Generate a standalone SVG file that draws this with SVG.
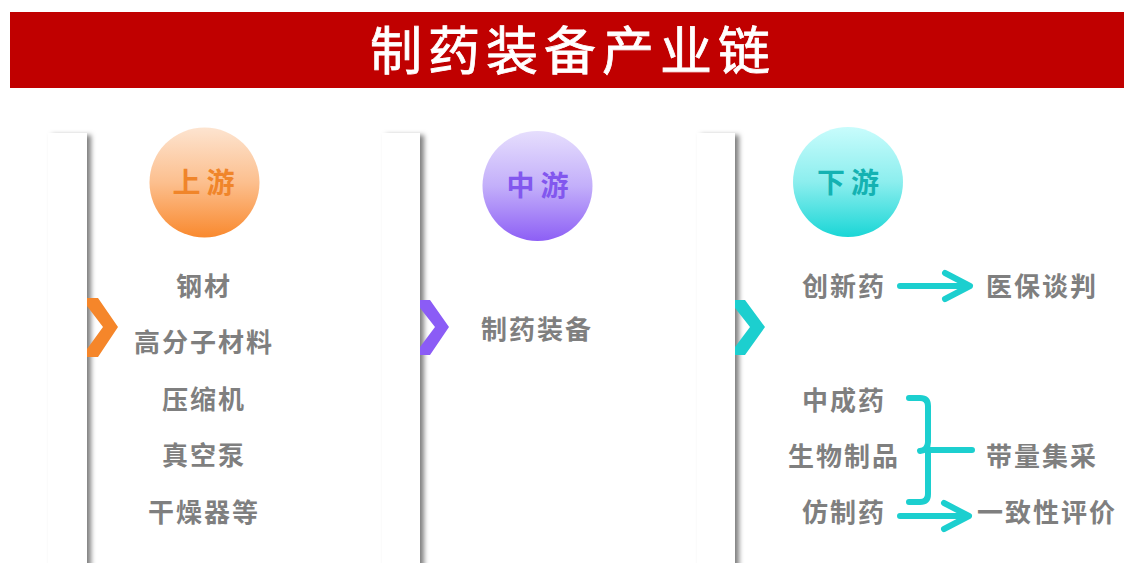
<svg xmlns="http://www.w3.org/2000/svg" width="1124" height="563" viewBox="0 0 1124 563">
<defs>
<style>
.t{font-family:"Noto Sans CJK SC","Noto Sans",sans-serif;font-weight:700;}
.item{font-size:26px;fill:#7f7f7f;letter-spacing:2px;text-anchor:middle;}
.circ{font-size:28px;letter-spacing:6px;text-anchor:middle;}
.panel{fill:#ffffff;filter:url(#sh);}
.conn{fill:none;stroke:#1ccfcf;stroke-width:6;stroke-linecap:round;stroke-linejoin:round;}
</style>
<filter id="sh" x="-50%" y="-10%" width="200%" height="120%">
<feDropShadow dx="4" dy="2" stdDeviation="2.5" flood-color="#000" flood-opacity="0.5"/>
</filter>
<linearGradient id="gO" x1="0" y1="0" x2="0" y2="1"><stop offset="0" stop-color="#fde4d0"/><stop offset="0.5" stop-color="#fcbf8e"/><stop offset="1" stop-color="#f9892e"/></linearGradient>
<linearGradient id="gP" x1="0" y1="0" x2="0" y2="1"><stop offset="0" stop-color="#e6defd"/><stop offset="0.5" stop-color="#c3affa"/><stop offset="1" stop-color="#8d5ff5"/></linearGradient>
<linearGradient id="gT" x1="0" y1="0" x2="0" y2="1"><stop offset="0" stop-color="#c8fcfc"/><stop offset="0.5" stop-color="#8ceeee"/><stop offset="1" stop-color="#1ad6d6"/></linearGradient>
</defs>
<rect width="1124" height="563" fill="#ffffff"/>
<g id="title">
<rect x="10" y="12" width="1114" height="76" fill="#c00000"/>
<text x="573" y="70" font-family="'Noto Sans CJK SC','Noto Sans',sans-serif" font-size="52" font-weight="400" fill="#ffffff" text-anchor="middle" letter-spacing="6" stroke="#ffffff" stroke-width="0.8">制药装备产业链</text>
</g>
<g id="upstream">
<rect class="panel" x="48" y="133" width="39" height="440"/>
<polygon points="87,298 98,298 118,327 98,357 87,357 87,349 103,327 87,306" fill="#f5862a"/>
<circle cx="204.5" cy="182.5" r="55" fill="url(#gO)"/>
<text class="t circ" x="206.5" y="193" fill="#f0852a">上游</text>
<text class="t item" x="204" y="296">钢材</text>
<text class="t item" x="204" y="352">高分子材料</text>
<text class="t item" x="204" y="409">压缩机</text>
<text class="t item" x="204" y="465">真空泵</text>
<text class="t item" x="204" y="522">干燥器等</text>
</g>
<g id="midstream">
<rect class="panel" x="382" y="133" width="38" height="440"/>
<polygon points="420,300 430,300 449,327 430,355 420,355 420,347 435,327 420,308" fill="#8b5cf6"/>
<circle cx="537.5" cy="186" r="55" fill="url(#gP)"/>
<text class="t circ" x="540.5" y="196" fill="#8257ee">中游</text>
<text class="t item" x="537" y="339">制药装备</text>
</g>
<g id="downstream">
<rect class="panel" x="697" y="133" width="38" height="440"/>
<polygon points="735,300 745,300 765,327 745,355 735,355 735,347 750,327 735,308" fill="#1ccfcf"/>
<circle cx="848" cy="182" r="55" fill="url(#gT)"/>
<text class="t circ" x="851" y="193" fill="#14b2b2">下游</text>
</g>
<g id="n-innov"><text class="t item" x="844" y="296">创新药</text></g>
<g id="n-yibao"><text class="t item" x="1042" y="296">医保谈判</text></g>
<g id="n-zcy"><text class="t item" x="844" y="410">中成药</text></g>
<g id="n-swzp"><text class="t item" x="844" y="466">生物制品</text></g>
<g id="n-fzy"><text class="t item" x="844" y="522">仿制药</text></g>
<g id="n-dljc"><text class="t item" x="1042" y="466">带量集采</text></g>
<g id="n-yzx"><text class="t item" x="1047" y="522">一致性评价</text></g>
<g id="connectors">
<path class="conn" d="M900 286 H968 M945 273 L970 286 L945 299"/>
<path class="conn" d="M909 398 H920 Q928 398 928 406 V442 Q928 450 920 451 M928 450 H972 M928 450 V494 Q928 502 920 502 H909"/>
<path class="conn" d="M900 516 H966 M944 503 L969 516 L944 529"/>
</g>
</svg>
